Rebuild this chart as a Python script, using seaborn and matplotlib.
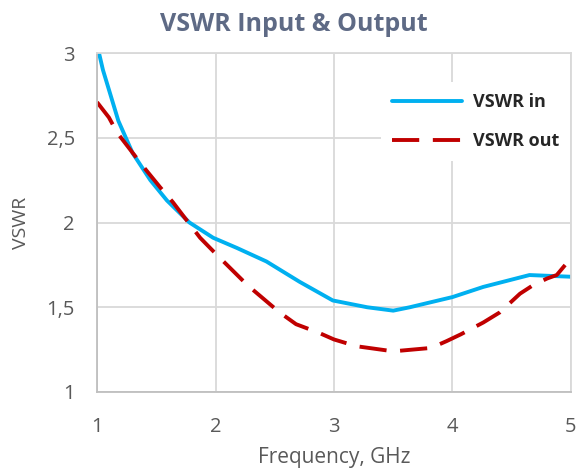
import matplotlib
matplotlib.use("Agg")
import matplotlib.pyplot as plt
import matplotlib.ticker as mtick
import numpy as np
import pandas as pd
import seaborn as sns

sns.set_style("white")
plt.rcParams['font.family'] = ['Open Sans', 'DejaVu Sans']

# values
freq_in = [1.0, 1.05, 1.18, 1.30, 1.45, 1.59, 1.78, 1.98, 2.18, 2.43, 2.71, 2.99,
           3.28, 3.50, 3.64, 4.00, 4.26, 4.65, 5.0]
vswr_in = [3.05, 2.90, 2.60, 2.41, 2.25, 2.13, 2.00, 1.91, 1.85, 1.77, 1.65, 1.54,
           1.50, 1.48, 1.50, 1.56, 1.62, 1.69, 1.68]

freq_out = [1.0, 1.10, 1.17, 1.39, 1.53, 1.64, 1.76, 1.87, 2.01, 2.27, 2.54, 2.68,
            2.87, 3.00, 3.19, 3.50, 3.82, 3.95, 4.07, 4.26, 4.40, 4.57, 4.68, 4.80,
            4.88, 5.0]
vswr_out = [2.71, 2.62, 2.53, 2.33, 2.21, 2.12, 2.01, 1.91, 1.81, 1.63, 1.47, 1.40,
            1.35, 1.31, 1.27, 1.24, 1.26, 1.30, 1.34, 1.41, 1.47, 1.58, 1.63, 1.67,
            1.69, 1.79]

x_ticks = [1, 2, 3, 4, 5]
y_ticks = [1, 1.5, 2, 2.5, 3]

fig = plt.figure(figsize=(5.88, 4.72), dpi=100)
ax = fig.add_axes([0.165, 0.1695, 0.806, 0.7182])

sns.lineplot(x=freq_in, y=vswr_in, ax=ax, color="#00B0F0", linewidth=2.8,
             label="VSWR in", sort=False)
sns.lineplot(x=freq_out, y=vswr_out, ax=ax, color="#C00000", linewidth=2.8,
             linestyle=(0, (7, 3.5)), label="VSWR out", sort=False)

ax.set_xlim(1, 5)
ax.set_ylim(1, 3)
ax.set_xticks(x_ticks)
ax.set_yticks(y_ticks)
ax.yaxis.set_major_formatter(mtick.FuncFormatter(lambda v, p: f"{v:g}".replace(".", ",")))
ax.grid(True, color="#D9D9D9", linewidth=1.3)
for s in ax.spines.values():
    s.set_color("#D9D9D9")
    s.set_linewidth(1.3)
ax.spines['left'].set_color("#BFBFBF")
ax.spines['bottom'].set_color("#BFBFBF")
ax.tick_params(axis='both', length=0, labelsize=14.5, colors="#595959")
ax.tick_params(axis='x', pad=18)
ax.tick_params(axis='y', pad=16)

ax.set_xlabel("Frequency, GHz", fontsize=15, color="#595959", labelpad=7)
ax.set_ylabel("VSWR", fontsize=14, color="#595959", labelpad=12)
fig.suptitle("VSWR Input & Output", x=0.5, y=0.975, fontsize=18, fontweight="bold",
             color="#5E6A85")

leg = ax.legend(loc="upper left", bbox_to_anchor=(0.58, 0.94), frameon=True,
                fancybox=False, framealpha=1, edgecolor="none", facecolor="white",
                handlelength=3.9, handletextpad=0.6, labelspacing=1.15,
                borderpad=0.6, prop={'weight': 'bold', 'size': 13})
for t in leg.get_texts():
    t.set_color("#262626")

fig.savefig("out.png", dpi=100)
